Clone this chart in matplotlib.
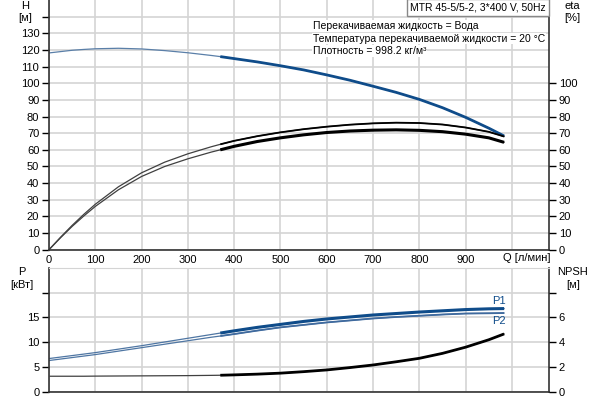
import numpy as np
import matplotlib
matplotlib.use('Agg')
from matplotlib import pyplot as plt
from matplotlib.transforms import blended_transform_factory

plt.rcParams['font.family'] = ['Liberation Sans', 'DejaVu Sans']
plt.rcParams['font.size'] = 8

# flow rate, l/min
q = [0, 25, 50, 75, 100, 150, 200, 250, 300, 350, 370, 400, 450, 500, 550,
     600, 650, 700, 750, 800, 850, 900, 950, 983]
# head, m
head = [118.2, 119, 119.8, 120.3, 120.7, 121, 120.6, 119.6, 118.3, 116.7, 116,
        114.8, 112.8, 110.5, 108, 105, 101.8, 98.2, 94.5, 90.3, 85.3, 79.5,
        73, 68.3]
# efficiency, %
eta_1 = [0, 7.5, 14.6, 21.2, 27.3, 37.8, 46.2, 52.6, 57.6, 61.8, 63.3, 65.4,
         68.2, 70.5, 72.4, 73.9, 75.1, 75.9, 76.3, 76.1, 75.2, 73.4, 70.8, 68]
eta_2 = [0, 7.2, 14.0, 20.2, 26.0, 36.0, 44.0, 50.0, 54.6, 58.6, 60.0, 62.1,
         65.0, 67.2, 69.0, 70.4, 71.3, 71.8, 72.0, 71.7, 70.9, 69.4, 67.2, 64.5]
# power, kW
p1 = [6.7, 7.0, 7.3, 7.6, 7.9, 8.6, 9.3, 10.05, 10.8, 11.55, 11.85, 12.3,
      13.0, 13.6, 14.2, 14.7, 15.1, 15.5, 15.8, 16.1, 16.35, 16.6, 16.75, 16.8]
p2 = [6.3, 6.6, 6.9, 7.2, 7.5, 8.2, 8.9, 9.6, 10.3, 11.0, 11.25, 11.65,
      12.35, 13.0, 13.5, 14.0, 14.4, 14.8, 15.1, 15.35, 15.6, 15.8, 15.85, 15.9]
# NPSH, m
npsh = [1.25, 1.25, 1.25, 1.25, 1.26, 1.27, 1.28, 1.29, 1.3, 1.32, 1.33, 1.36,
        1.42, 1.5, 1.62, 1.76, 1.95, 2.16, 2.42, 2.7, 3.1, 3.6, 4.2, 4.67]

q_start = 370
blue = '#0f4c8a'
grid_c = '#d4d4d4'


def curve(ax, x, y, color, lw_thin, lw_thick, thin_color=None):
    x = np.array(x)
    y = np.array(y)
    ax.plot(x, y, color=thin_color or color, lw=lw_thin)
    m = x >= q_start
    ax.plot(x[m], y[m], color=color, lw=lw_thick, solid_capstyle='butt')


def style_axes(ax):
    ax.set_xlim(0, 1080)
    ax.set_xticks(np.arange(0, 1001, 100))
    ax.grid(True, color=grid_c, lw=1.2)
    ax.set_axisbelow(True)
    for s in ['left', 'right', 'bottom']:
        ax.spines[s].set_color('#333333')
        ax.spines[s].set_linewidth(1.2)
    ax.spines['top'].set_color(grid_c)
    ax.tick_params(axis='y', direction='out', length=5, width=1, pad=2)
    ax.tick_params(axis='x', length=0, pad=4)


fig = plt.figure(figsize=(6, 4), dpi=100)

# --- upper panel: H and eta ---
ax1 = fig.add_axes([49 / 600, 1 - 249.7 / 400, 500 / 600, 249.7 / 400])
style_axes(ax1)
ax1.spines['top'].set_visible(False)
ax1.set_ylim(0, 150)
ax1.set_yticks(np.arange(0, 141, 10))
ax1.set_yticklabels([str(v) for v in range(0, 131, 10)] + [''])
ax1.set_xticklabels([str(v) for v in range(0, 901, 100)] + [''])
tr = blended_transform_factory(ax1.transData, ax1.transAxes)
ax1.text(981, -0.033, 'Q [л/мин]', transform=tr, ha='left', va='center')

curve(ax1, q, head, blue, 0.9, 2.0, thin_color='#5a7fa8')
curve(ax1, q, eta_1, 'black', 0.9, 1.3, thin_color='#404040')
curve(ax1, q, eta_2, 'black', 0.9, 2.2, thin_color='#404040')

ax1r = ax1.twinx()
ax1r.set_ylim(0, 150)
ax1r.set_yticks(np.arange(0, 101, 10))
ax1r.tick_params(axis='y', direction='out', length=5, width=1, pad=2)
for s in ax1r.spines.values():
    s.set_visible(False)

fig.text(25 / 600, 1 - 6 / 400, 'H', ha='center', va='center', fontsize=8)
fig.text(25 / 600, 1 - 18 / 400, '[м]', ha='center', va='center', fontsize=8)
fig.text(572 / 600, 1 - 6 / 400, 'eta', ha='center', va='center', fontsize=8)
fig.text(572 / 600, 1 - 18 / 400, '[%]', ha='center', va='center', fontsize=8)

fig.text(546 / 600, 1 - 7.5 / 400, 'MTR 45-5/5-2, 3*400 V, 50Hz', ha='right',
         va='center', fontsize=7.5,
         bbox=dict(facecolor='white', edgecolor='#888888', lw=1, pad=2.5))
info = ['Перекачиваемая жидкость = Вода',
        'Температура перекачиваемой жидкости = 20 °C',
        'Плотность = 998.2 кг/м³']
for i, line in enumerate(info):
    fig.text(313 / 600, 1 - (26 + 12.5 * i) / 400, line, ha='left', va='center',
             fontsize=7.5, bbox=dict(facecolor='white', edgecolor='none', pad=0.5))

# --- lower panel: P and NPSH ---
ax2 = fig.add_axes([49 / 600, 1 - 391.7 / 400, 500 / 600, 123.7 / 400])
style_axes(ax2)
ax2.set_ylim(0, 25)
ax2.set_yticks(np.arange(0, 21, 5))
ax2.set_yticklabels(['0', '5', '10', '15', ''])
ax2.set_xticklabels([])

curve(ax2, q, p1, blue, 0.9, 2.2, thin_color='#4f76a3')
curve(ax2, q, p2, '#3f6a9e', 0.9, 1.3, thin_color='#4f76a3')
ax2.text(q[-1] - 12, p1[-1] + 0.6, 'P1', color=blue, ha='center', va='bottom')
ax2.text(q[-1] - 12, p2[-1] - 0.7, 'P2', color=blue, ha='center', va='top')

ax2r = ax2.twinx()
ax2r.set_ylim(0, 10)
ax2r.set_yticks(np.arange(0, 9, 2))
ax2r.set_yticklabels(['0', '2', '4', '6', ''])
ax2r.tick_params(axis='y', direction='out', length=5, width=1, pad=2)
for s in ax2r.spines.values():
    s.set_visible(False)
curve(ax2r, q, npsh, 'black', 0.9, 2.0, thin_color='#404040')

fig.text(22 / 600, 1 - 272 / 400, 'P', ha='center', va='center', fontsize=8)
fig.text(22 / 600, 1 - 285 / 400, '[кВт]', ha='center', va='center', fontsize=8)
fig.text(573 / 600, 1 - 272 / 400, 'NPSH', ha='center', va='center', fontsize=8)
fig.text(573 / 600, 1 - 285 / 400, '[м]', ha='center', va='center', fontsize=8)

fig.savefig('out.png', dpi=100)
